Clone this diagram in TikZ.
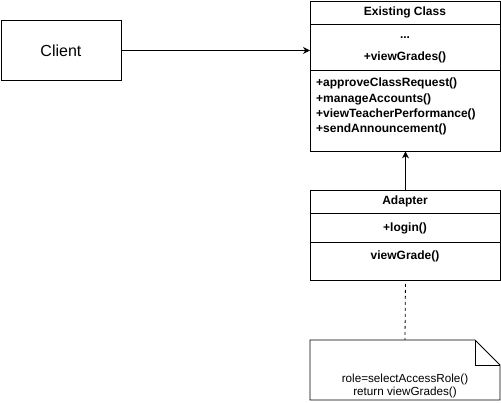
\documentclass[tikz,border=0pt]{standalone}
\usepackage{fontspec}
\setmainfont{Liberation Sans}
\usetikzlibrary{arrows.meta}
\begin{document}
\begin{tikzpicture}[x=1pt,y=-1pt,
  box/.style={draw,line width=0.9pt},
  lbl/.style={font=\fontsize{12}{14}\selectfont\bfseries,inner sep=0pt},
  ntxt/.style={font=\fontsize{11.7}{13}\selectfont,inner sep=0pt},
  arr/.style={-{Stealth[length=7pt,width=7pt]},line width=0.8pt}]
\useasboundingbox (0,0) rectangle (501,402);
% Client
\node[box,minimum width=120pt,minimum height=60pt,font=\fontsize{16}{18}\selectfont,anchor=north west] (client) at (0.5,20) {Client};
% Existing class
\node[box,minimum width=190pt,minimum height=150pt,anchor=north west,inner sep=0pt] (ex) at (310,0.5) {};
\draw[line width=0.9pt] (310,24) -- (500,24);
\draw[line width=0.9pt] (310,70) -- (500,70);
\node[lbl] (exname) at (405,12) {Existing Class};
\node[lbl] (dots) at (405,38) {...};
\node[lbl] (vg) at (405,57) {+viewGrades()};
\node[lbl,anchor=west] (m1) at (316,83) {+approveClassRequest()};
\node[lbl,anchor=west] (m2) at (316,99) {+manageAccounts()};
\node[lbl,anchor=west] (m3) at (316,114) {+viewTeacherPerformance()};
\node[lbl,anchor=west] (m4) at (316,129) {+sendAnnouncement()};
% Adapter
\node[box,minimum width=190pt,minimum height=90pt,anchor=north west,inner sep=0pt] (ad) at (310,190) {};
\draw[line width=0.9pt] (310,213) -- (500,213);
\draw[line width=0.9pt] (310,242) -- (500,242);
\node[lbl] (adname) at (405,201) {Adapter};
\node[lbl] (login) at (405,228) {+login()};
\node[lbl] (vgr) at (405,256) {viewGrade()};
% Note
\draw[line width=0.9pt] (310,340) -- (475,340) -- (500,365) -- (500,400) -- (310,400) -- cycle;
\draw[line width=0.9pt] (475,340) -- (475,365) -- (500,365);
\coordinate (notetop) at (405,340);
\node[ntxt] (n1) at (405,379) {role=selectAccessRole()};
\node[ntxt] (n2) at (405,392) {return viewGrades()};
% connectors
\draw[arr] (client.east) -- (ex.west|-client.east);
\draw[arr] (ad.north) -- (ex.south);
\draw[dashed,line width=0.8pt,dash pattern=on 3pt off 3pt] (ad.south) ++(0,3) -- (notetop);
\end{tikzpicture}
\end{document}
